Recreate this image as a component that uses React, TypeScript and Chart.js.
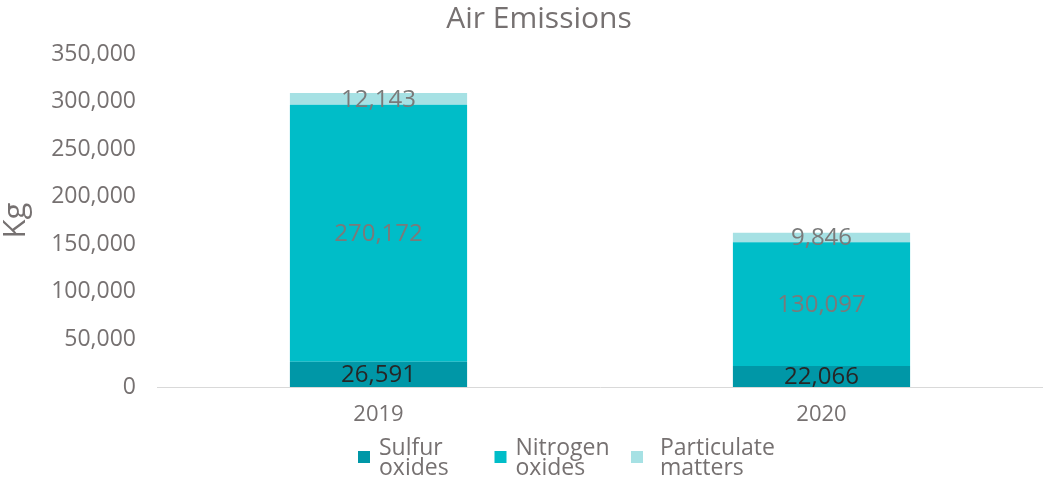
import React, { useEffect, useRef } from "react";
import { Chart, registerables } from "chart.js";

Chart.register(...registerables);

const categories = ["2019", "2020"];
const sulfurOxides = [26591, 22066];
const nitrogenOxides = [270172, 130097];
const particulateMatters = [12143, 9846];
const seriesLabels = ["Sulfur oxides", "Nitrogen oxides", "Particulate matters"];
const yTicks = [0, 50000, 100000, 150000, 200000, 250000, 300000, 350000];
const chartTitle = "Air Emissions";
const yTitle = "Kg";

const FONT = "'Open Sans', 'Noto Sans', sans-serif";
const GRAY = "#767171";
const COLORS = ["#0097A7", "#00BDC8", "#A6E1E4"];
const LABEL_COLORS = ["#262626", "#7a7a7a", "#7a7a7a"];

const fmt = (v: number) => v.toLocaleString("en-US");

const titlePlugin = {
  id: "customTitle",
  afterDraw(chart: any) {
    const ctx = chart.ctx;
    ctx.save();
    ctx.font = `30px ${FONT}`;
    ctx.fillStyle = GRAY;
    ctx.textAlign = "center";
    ctx.textBaseline = "middle";
    ctx.fillText(chartTitle, 539, 19);
    ctx.restore();
  },
};

const dataLabelPlugin = {
  id: "dataLabels",
  afterDatasetsDraw(chart: any) {
    const ctx = chart.ctx;
    ctx.save();
    ctx.font = `24px ${FONT}`;
    ctx.textAlign = "center";
    ctx.textBaseline = "middle";
    chart.data.datasets.forEach((ds: any, di: number) => {
      const meta = chart.getDatasetMeta(di);
      meta.data.forEach((el: any, i: number) => {
        const v = ds.data[i];
        const props = el.getProps(["x", "y", "base"], true);
        ctx.fillStyle = LABEL_COLORS[di];
        ctx.fillText(fmt(v), props.x, (props.y + props.base) / 2 + 1);
      });
    });
    ctx.restore();
  },
};

const legendPlugin = {
  id: "customLegend",
  afterDraw(chart: any) {
    const ctx = chart.ctx;
    const slotW = 136.5;
    const startX = 358;
    ctx.save();
    ctx.font = `23px ${FONT}`;
    ctx.textBaseline = "middle";
    ctx.textAlign = "left";
    chart.data.datasets.forEach((ds: any, di: number) => {
      const x = startX + di * slotW;
      ctx.fillStyle = ds.backgroundColor;
      ctx.fillRect(x, 451, 12, 12);
      const label: string = ds.label;
      const sp = label.indexOf(" ");
      const lines = [label.slice(0, sp), label.slice(sp + 1)];
      ctx.fillStyle = GRAY;
      const textX = x + (di === 2 ? 29 : 21);
      lines.forEach((ln, li) => ctx.fillText(ln, textX, 448 + li * 20));
    });
    ctx.restore();
  },
};

export default function App() {
  const ref = useRef<HTMLCanvasElement | null>(null);
  useEffect(() => {
    if (!ref.current) return;
    const series = [sulfurOxides, nitrogenOxides, particulateMatters];
    const chart = new Chart(ref.current, {
      type: "bar",
      data: {
        labels: categories,
        datasets: series.map((d, i) => ({
          label: seriesLabels[i],
          data: d,
          backgroundColor: COLORS[i],
          borderWidth: 0,
          barPercentage: 0.4,
          categoryPercentage: 1,
        })),
      },
      options: {
        animation: false,
        responsive: true,
        maintainAspectRatio: false,
        layout: { padding: { top: 54, bottom: 0, left: 0, right: 0 } },
        plugins: {
          legend: { display: false },
          title: { display: false },
          tooltip: { enabled: false },
        },
        scales: {
          x: {
            stacked: true,
            grid: { display: false, drawTicks: false },
            border: { display: true, color: "#d9d9d9", width: 1 },
            ticks: { font: { family: FONT, size: 22 }, color: GRAY, padding: 15 },
            afterFit: (s: any) => {
              s.height = 97;
            },
          },
          y: {
            stacked: true,
            min: 0,
            max: 350000,
            grid: { display: false, drawTicks: false },
            border: { display: false },
            afterBuildTicks: (s: any) => {
              s.ticks = yTicks.map((v) => ({ value: v }));
            },
            ticks: {
              font: { family: FONT, size: 23 },
              color: GRAY,
              padding: 21,
              callback: (v: any) => fmt(Number(v)),
            },
            title: {
              display: true,
              text: yTitle,
              font: { family: FONT, size: 31, lineHeight: 1 },
              color: GRAY,
              padding: { top: 1, bottom: 0 },
            },
            afterFit: (s: any) => {
              s.width = 157;
            },
          },
        },
      },
      plugins: [titlePlugin, dataLabelPlugin, legendPlugin],
    });
    return () => chart.destroy();
  }, []);
  return (
    <div style={{ position: "fixed", left: 0, top: 0, width: 1043, height: 484, background: "#fff" }}>
      <canvas ref={ref} />
    </div>
  );
}
